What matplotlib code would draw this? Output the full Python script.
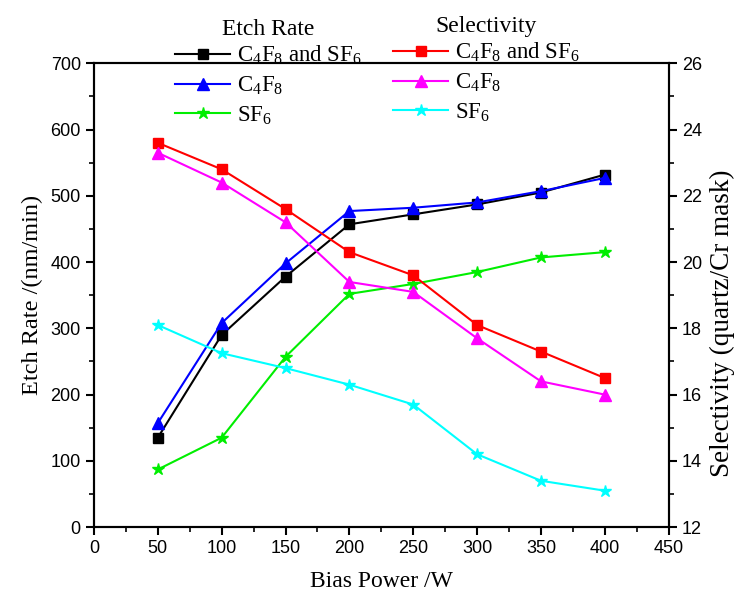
import matplotlib
matplotlib.use("Agg")
import matplotlib.pyplot as plt
from matplotlib.ticker import MultipleLocator

bias_power = [50, 100, 150, 200, 250, 300, 350, 400]
etch_c4f8_sf6 = [135, 290, 378, 457, 472, 487, 505, 532]
etch_c4f8 = [157, 308, 398, 477, 482, 490, 507, 527]
etch_sf6 = [87, 135, 257, 352, 367, 385, 407, 415]
sel_c4f8_sf6 = [23.6, 22.8, 21.6, 20.3, 19.6, 18.1, 17.3, 16.5]
sel_c4f8 = [23.3, 22.4, 21.2, 19.4, 19.1, 17.7, 16.4, 16.0]
sel_sf6 = [18.1, 17.25, 16.8, 16.3, 15.7, 14.2, 13.4, 13.1]

lab_both = r'C$_4$F$_8$ and SF$_6$'
lab_c4f8 = r'C$_4$F$_8$'
lab_sf6 = r'SF$_6$'

plt.rcParams['mathtext.fontset'] = 'custom'
plt.rcParams['mathtext.rm'] = 'Liberation Serif'
plt.rcParams['mathtext.it'] = 'Liberation Serif:italic'
plt.rcParams['mathtext.bf'] = 'Liberation Serif:bold'

serif = 'Liberation Serif'
tickfont = ['Liberation Sans', 'DejaVu Sans']

fig = plt.figure(figsize=(7.34, 5.97), dpi=100)
ax = fig.add_axes([0.128, 0.117, 0.783, 0.777])
ax2 = ax.twinx()

lw = 1.5
h1 = ax.plot(bias_power, etch_c4f8_sf6, color='black', marker='s', ms=6.5, lw=lw)[0]
h2 = ax.plot(bias_power, etch_c4f8, color='blue', marker='^', ms=8, lw=lw)[0]
h3 = ax.plot(bias_power, etch_sf6, color='#00ee00', marker='*', ms=9, lw=lw)[0]
h4 = ax2.plot(bias_power, sel_c4f8_sf6, color='red', marker='s', ms=6.5, lw=lw)[0]
h5 = ax2.plot(bias_power, sel_c4f8, color='magenta', marker='^', ms=8, lw=lw)[0]
h6 = ax2.plot(bias_power, sel_sf6, color='cyan', marker='*', ms=9, lw=lw)[0]

ax.set_xlim(0, 450)
ax.set_ylim(0, 700)
ax2.set_ylim(12, 26)
ax.xaxis.set_major_locator(MultipleLocator(50))
ax.xaxis.set_minor_locator(MultipleLocator(25))
ax.yaxis.set_major_locator(MultipleLocator(100))
ax.yaxis.set_minor_locator(MultipleLocator(50))
ax2.yaxis.set_major_locator(MultipleLocator(2))
ax2.yaxis.set_minor_locator(MultipleLocator(1))

for a in (ax, ax2):
    for s in a.spines.values():
        s.set_linewidth(1.5)
    a.tick_params(which='major', length=6, width=1.5, labelsize=13)
    a.tick_params(which='minor', length=3.5, width=1.2)
    for lbl in a.get_xticklabels() + a.get_yticklabels():
        lbl.set_family(tickfont)

ax.set_xlabel('Bias Power /W', family=serif, fontsize=17, labelpad=10)
ax.set_ylabel('Etch Rate /(nm/min)', family=serif, fontsize=17.5, labelpad=5)
ax2.set_ylabel('Selectivity (quartz/Cr mask)', family=serif, fontsize=19.5, labelpad=4)
ax2.yaxis.set_label_coords(1.072, 0.44)

common = dict(loc='upper left', frameon=False,
              prop={'family': serif, 'size': 16.5},
              title_fontproperties={'family': serif, 'size': 17},
              handlelength=2.4, labelspacing=0.32, borderaxespad=0.0,
              handletextpad=0.3, borderpad=0.0)
leg1 = fig.legend([h1, h2, h3], [lab_both, lab_c4f8, lab_sf6], title='Etch Rate',
                  bbox_to_anchor=(175 / 734, 1 - 19 / 597), **common)
leg2 = fig.legend([h4, h5, h6], [lab_both, lab_c4f8, lab_sf6], title='Selectivity',
                  bbox_to_anchor=(393 / 734, 1 - 16 / 597), **common)
for lg in (leg1, leg2):
    lg._legend_box.sep = 3

fig.savefig('out.png', dpi=100)
